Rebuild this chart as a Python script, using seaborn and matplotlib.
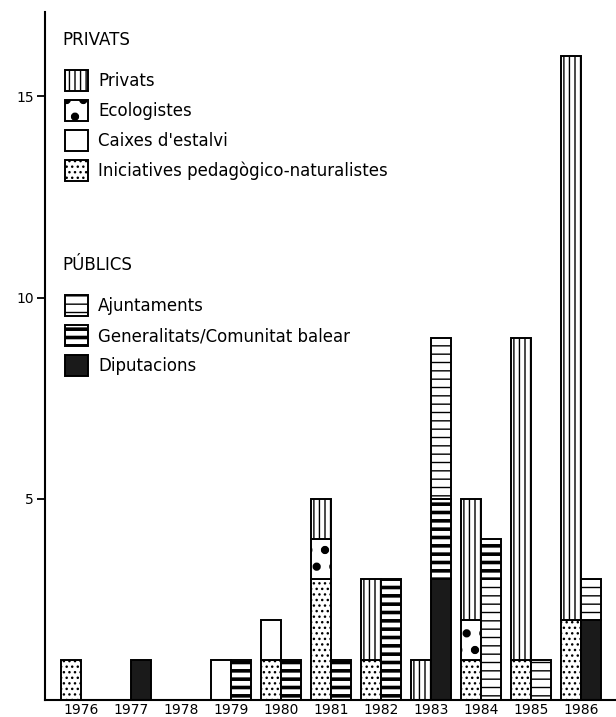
import matplotlib
matplotlib.use("Agg")
import matplotlib.pyplot as plt
import seaborn as sns
from matplotlib.patches import Patch

# years on the x axis
years = [1976, 1977, 1978, 1979, 1980, 1981, 1982, 1983, 1984, 1985, 1986]

# private bars: segments listed bottom to top
priv_year = [1976, 1979, 1980, 1980, 1981, 1981, 1981, 1982, 1982, 1983,
             1984, 1984, 1984, 1985, 1985, 1986, 1986]
priv_cat = ["Iniciatives pedagògico-naturalistes", "Caixes d'estalvi",
            "Iniciatives pedagògico-naturalistes", "Caixes d'estalvi",
            "Iniciatives pedagògico-naturalistes", "Ecologistes", "Privats",
            "Iniciatives pedagògico-naturalistes", "Privats",
            "Privats",
            "Iniciatives pedagògico-naturalistes", "Ecologistes", "Privats",
            "Iniciatives pedagògico-naturalistes", "Privats",
            "Iniciatives pedagògico-naturalistes", "Privats"]
priv_val = [1, 1, 1, 1, 3, 1, 1, 1, 2, 1, 1, 1, 3, 1, 8, 2, 14]

# public bars: segments listed bottom to top
pub_year = [1977, 1979, 1980, 1981, 1982, 1983, 1983, 1983, 1984, 1984,
            1985, 1986, 1986]
pub_cat = ["Diputacions", "Generalitats/Comunitat balear",
           "Generalitats/Comunitat balear", "Generalitats/Comunitat balear",
           "Generalitats/Comunitat balear",
           "Diputacions", "Generalitats/Comunitat balear", "Ajuntaments",
           "Ajuntaments", "Generalitats/Comunitat balear",
           "Ajuntaments",
           "Diputacions", "Ajuntaments"]
pub_val = [1, 1, 1, 1, 3, 3, 2, 4, 3, 1, 1, 2, 1]

priv_legend = ["Privats", "Ecologistes", "Caixes d'estalvi",
               "Iniciatives pedagògico-naturalistes"]
pub_legend = ["Ajuntaments", "Generalitats/Comunitat balear", "Diputacions"]
y_ticks = [5, 10, 15]

# fill colour, hatch, hatch line width
styles = {
    "Privats": ("white", "|||", 1.0),
    "Ecologistes": ("white", ".", 3.5),
    "Caixes d'estalvi": ("white", "", 1.0),
    "Iniciatives pedagògico-naturalistes": ("white", "...", 1.0),
    "Ajuntaments": ("white", "--", 1.0),
    "Generalitats/Comunitat balear": ("white", "--", 2.6),
    "Diputacions": ("#1a1a1a", "", 1.0),
}

sns.set_style("white")
plt.rcParams["font.family"] = ["DejaVu Sans"]
plt.rcParams["hatch.color"] = "black"
plt.rcParams["text.color"] = "black"
plt.rcParams["xtick.color"] = "black"
plt.rcParams["ytick.color"] = "black"

fig = plt.figure(figsize=(6.16, 7.17), dpi=100)
ax = fig.add_axes([45 / 616, 17 / 717, 571 / 616, 688 / 717])

pos = {y: i for i, y in enumerate(years)}
w = 0.4


def set_hlw(p, hlw):
    if hasattr(p, "set_hatch_linewidth"):
        p.set_hatch_linewidth(hlw)


def draw_side(seg_year, seg_cat, seg_val, offset):
    bottoms = {}
    for yr, cat, val in zip(seg_year, seg_cat, seg_val):
        fc, hatch, hlw = styles[cat]
        b = bottoms.get(yr, 0)
        with plt.rc_context({"hatch.linewidth": hlw}):
            bars = ax.bar(pos[yr] + offset, val, width=w, bottom=b, align="edge",
                          facecolor=fc, edgecolor="black", linewidth=1.4,
                          hatch=hatch)
        for p in bars:
            set_hlw(p, hlw)
        bottoms[yr] = b + val


draw_side(priv_year, priv_cat, priv_val, -w)
draw_side(pub_year, pub_cat, pub_val, 0)


def add_legend(names, anchor):
    hs = [Patch(facecolor=styles[n][0], edgecolor="black", linewidth=1.4,
                hatch=styles[n][1]) for n in names]
    leg = ax.legend(hs, names, loc="upper left", bbox_to_anchor=anchor,
                    frameon=False, borderpad=0, borderaxespad=0,
                    handlelength=1.4, handleheight=1.62, handletextpad=0.6,
                    labelspacing=0.5, fontsize=12)
    for p, n in zip(leg.get_patches(), names):
        set_hlw(p, styles[n][2])
    return leg


leg1 = add_legend(priv_legend, (0.035, 0.916))
ax.add_artist(leg1)
add_legend(pub_legend, (0.035, 0.589))

ax.text(0.03, 0.959, "PRIVATS", transform=ax.transAxes, fontsize=12, va="center")
ax.text(0.03, 0.632, "PÚBLICS", transform=ax.transAxes, fontsize=12, va="center")

ax.set_xlim(-0.72, 10.7)
ax.set_ylim(0, 17.1)
ax.set_xticks(range(len(years)))
ax.set_xticklabels([str(y) for y in years])
ax.set_yticks(y_ticks)
ax.set_yticklabels([str(t) for t in y_ticks])
ax.tick_params(axis="x", length=0, labelsize=10, pad=2)
ax.tick_params(axis="y", direction="out", length=6, width=1.3, labelsize=10,
               pad=2, left=True)
sns.despine(ax=ax, top=True, right=True)
for s in ["left", "bottom"]:
    ax.spines[s].set_linewidth(1.5)
    ax.spines[s].set_color("black")

fig.savefig("out.png", dpi=100)
